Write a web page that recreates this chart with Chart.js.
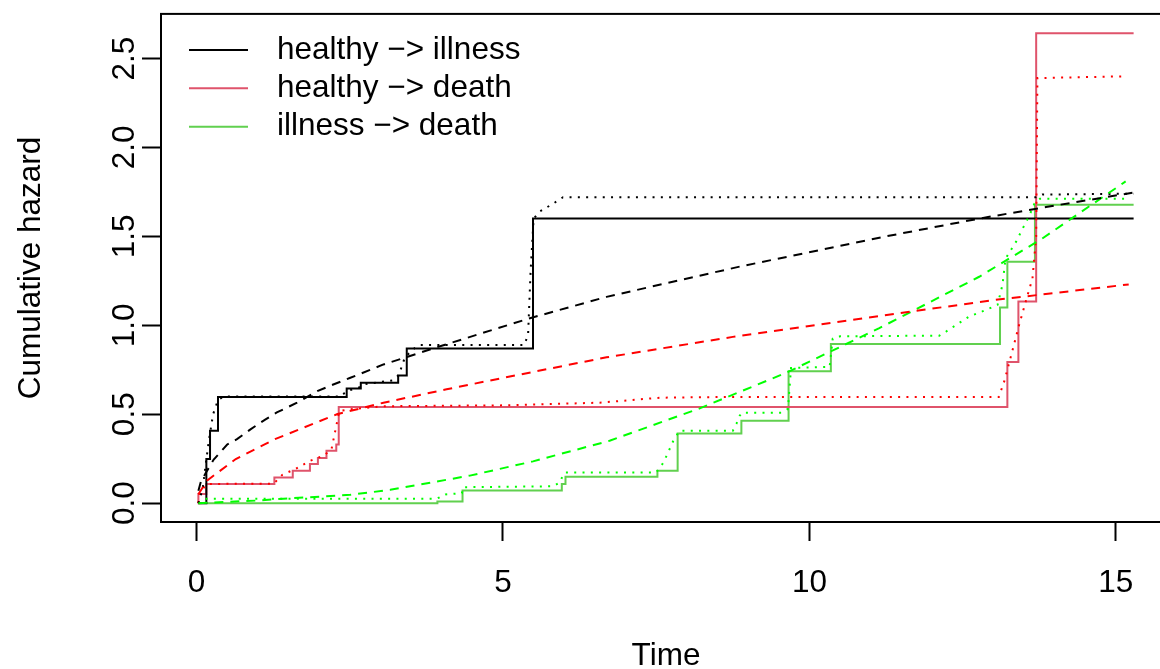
<!DOCTYPE html>
<html>
<head>
<meta charset="utf-8">
<script src="https://cdn.jsdelivr.net/npm/chart.js@4.4.1/dist/chart.umd.min.js"></script>
<style>
html,body{margin:0;padding:0;background:#fff;overflow:hidden;width:1160px;height:669px;}
canvas{display:block;}
</style>
</head>
<body>
<canvas id="c" width="1180" height="669"></canvas>
<script>
// ---- data ----
const seriesNames = ["healthy \u2212> illness", "healthy \u2212> death", "illness \u2212> death"];
const xTicks = [0, 5, 10, 15];
const xTickLabels = ["0", "5", "10", "15"];
const yTicks = [0, 0.5, 1, 1.5, 2, 2.5];
const yTickLabels = ["0.0", "0.5", "1.0", "1.5", "2.0", "2.5"];

// step estimates (solid)
const hiStepT = [0.03, 0.16, 0.22, 0.35, 2.45, 2.68, 3.29, 3.43, 5.49, 15.29];
const hiStepH = [0, 0.248, 0.407, 0.597, 0.645, 0.677, 0.718, 0.869, 1.6, 1.6];
const hdStepT = [0.02, 0.03, 0.16, 1.27, 1.57, 1.85, 1.98, 2.12, 2.28, 2.32, 13.23, 13.41, 13.70, 15.29];
const hdStepH = [0, 0.052, 0.108, 0.145, 0.183, 0.22, 0.254, 0.295, 0.33, 0.541, 0.794, 1.134, 2.642, 2.642];
const idStepT = [0.03, 3.93, 4.34, 5.96, 6.02, 7.52, 7.85, 8.89, 9.66, 10.35, 13.11, 13.23, 13.68, 15.29];
const idStepH = [0, 0.01, 0.071, 0.108, 0.149, 0.183, 0.392, 0.463, 0.742, 0.895, 1.10, 1.357, 1.678, 1.678];

// smoothed estimates (dotted)
const hiDotT = [0.03, 0.1, 0.15, 0.2, 0.27, 0.35, 0.45, 2.35, 2.45, 2.65, 2.75, 3.2, 3.3, 3.4, 3.55, 3.65, 5.35, 5.41, 5.45, 5.5, 5.6, 5.8, 5.98, 13.7, 13.8, 15.29];
const hiDotH = [0, 0.08, 0.22, 0.35, 0.5, 0.58, 0.6, 0.6, 0.63, 0.65, 0.67, 0.69, 0.72, 0.82, 0.87, 0.89, 0.89, 0.95, 1.3, 1.6, 1.64, 1.68, 1.72, 1.72, 1.735, 1.74];
const hdDotT = [0.03, 0.05, 0.17, 1.26, 1.40, 1.6, 1.86, 2.07, 2.2, 2.33, 2.51, 3.05, 5.0, 6.58, 7.56, 8.64, 13.09, 13.18, 13.31, 13.42, 13.53, 13.64, 13.70, 13.72, 15.16];
const hdDotH = [0, 0.06, 0.108, 0.11, 0.16, 0.19, 0.239, 0.267, 0.30, 0.518, 0.528, 0.545, 0.55, 0.565, 0.593, 0.597, 0.597, 0.686, 0.854, 1.0, 1.134, 1.264, 1.5, 2.39, 2.40];
const idDotT = [0.03, 0.16, 3.92, 4.06, 4.33, 4.35, 5.82, 5.93, 5.98, 6.02, 7.5, 7.61, 7.67, 7.78, 7.88, 8.75, 8.81, 8.86, 8.9, 9.54, 9.65, 9.70, 10.33, 10.38, 10.5, 12.12, 12.23, 12.44, 12.61, 12.82, 13.07, 13.15, 13.2, 13.37, 13.48, 13.59, 13.67, 13.76, 15.22];
const idDotH = [0, 0.025, 0.025, 0.049, 0.056, 0.09, 0.095, 0.117, 0.159, 0.173, 0.173, 0.224, 0.267, 0.351, 0.407, 0.407, 0.447, 0.49, 0.509, 0.509, 0.53, 0.76, 0.766, 0.925, 0.938, 0.942, 0.965, 1.012, 1.05, 1.078, 1.115, 1.227, 1.375, 1.469, 1.544, 1.618, 1.683, 1.711, 1.711];

// parametric fits (dashed)
const hiDashT = [0.03, 0.07, 0.15, 0.28, 0.5, 0.66, 0.88, 1.12, 1.31, 1.64, 1.97, 2.18, 2.51, 3.05, 4.0, 5.44, 6.69, 8.86, 11.25, 12.77, 13.86, 15.27];
const hiDashH = [0.07, 0.12, 0.17, 0.245, 0.33, 0.36, 0.415, 0.47, 0.51, 0.565, 0.63, 0.66, 0.705, 0.78, 0.885, 1.04, 1.16, 1.33, 1.5, 1.6, 1.665, 1.745];
const hdDashT = [0.03, 0.17, 0.64, 1.28, 2.29, 3.05, 4.08, 4.79, 6.69, 8.75, 11.19, 13.04, 15.21];
const hdDashH = [0.05, 0.127, 0.248, 0.36, 0.5, 0.565, 0.64, 0.69, 0.82, 0.935, 1.055, 1.143, 1.23];
const idDashT = [0.03, 1.0, 1.42, 2.51, 3.16, 4.46, 5.49, 6.74, 8.21, 9.62, 11.14, 12.77, 13.8, 15.16];
const idDashH = [0.0, 0.015, 0.025, 0.047, 0.075, 0.155, 0.235, 0.351, 0.533, 0.733, 0.984, 1.273, 1.488, 1.809];

// ---- styles ----
const FONT = "'Liberation Sans', Arial, Helvetica, sans-serif";
const FS = 31.5;
const solidCols = ["#000000", "#DF536B", "#61D04F"];
const fitCols = ["#000000", "#FF0000", "#00FF00"];

const pts = (t, h) => t.map((v, i) => ({x: v, y: h[i]}));
function ds(t, h, color, kind) {
  return {
    data: pts(t, h),
    borderColor: color,
    borderWidth: 2,
    pointRadius: 0,
    fill: false,
    tension: 0,
    stepped: kind === 'step' ? 'before' : false,
    borderDash: kind === 'dash' ? [9, 7] : (kind === 'dot' ? [2, 6.3] : []),
    borderCapStyle: 'butt',
    label: ''
  };
}

const datasets = [
  ds(hiDashT, hiDashH, fitCols[0], 'dash'),
  ds(hdDashT, hdDashH, fitCols[1], 'dash'),
  ds(idDashT, idDashH, fitCols[2], 'dash'),
  ds(hiDotT, hiDotH, fitCols[0], 'dot'),
  ds(hdDotT, hdDotH, fitCols[1], 'dot'),
  ds(idDotT, idDotH, fitCols[2], 'dot'),
  ds(hiStepT, hiStepH, solidCols[0], 'step'),
  ds(hdStepT, hdStepH, solidCols[1], 'step'),
  ds(idStepT, idStepH, solidCols[2], 'step')
];

const boxLegend = {
  id: 'boxLegend',
  afterDraw(chart) {
    const {ctx, chartArea: a} = chart;
    ctx.save();
    ctx.strokeStyle = '#000';
    ctx.lineWidth = 2;
    ctx.strokeRect(a.left, a.top, a.right - a.left, a.bottom - a.top);
    // legend
    const ys = [50, 88.3, 126.7];
    ctx.font = FS + 'px ' + FONT;
    ctx.textBaseline = 'middle';
    ctx.textAlign = 'left';
    seriesNames.forEach((n, i) => {
      ctx.strokeStyle = solidCols[i];
      ctx.lineWidth = 2;
      ctx.beginPath();
      ctx.moveTo(189, ys[i]);
      ctx.lineTo(248, ys[i]);
      ctx.stroke();
      ctx.fillStyle = '#000';
      ctx.fillText(n, 277, ys[i]);
    });
    ctx.restore();
  }
};

new Chart(document.getElementById('c'), {
  type: 'line',
  data: {datasets},
  plugins: [boxLegend],
  options: {
    responsive: false,
    animation: false,
    devicePixelRatio: 1,
    layout: {padding: {top: 12, right: 9, left: 0, bottom: 0}},
    plugins: {legend: {display: false}, tooltip: {enabled: false}, title: {display: false}},
    scales: {
      x: {
        type: 'linear',
        min: -0.58,
        max: 15.9,
        afterBuildTicks: s => { s.ticks = xTicks.map(v => ({value: v})); },
        afterFit: s => { s.height = 147; },
        border: {display: false},
        grid: {drawOnChartArea: false, drawTicks: true, tickLength: 19, tickColor: '#000', tickWidth: 2, color: '#000'},
        ticks: {
          color: '#000', padding: 23, maxRotation: 0, minRotation: 0,
          font: {family: FONT, size: FS},
          callback: (v, i) => xTickLabels[i]
        },
        title: {display: true, text: 'Time', color: '#000', font: {family: FONT, size: FS, lineHeight: 0.8}, padding: {top: 0, bottom: 0}}
      },
      y: {
        type: 'linear',
        min: -0.1058,
        max: 2.7508,
        afterBuildTicks: s => { s.ticks = yTicks.map(v => ({value: v})); },
        afterFit: s => { s.width = 161; },
        border: {display: false},
        grid: {drawOnChartArea: false, drawTicks: true, tickLength: 19, tickColor: '#000', tickWidth: 2, color: '#000'},
        ticks: {
          color: '#000', padding: -5, minRotation: 90, maxRotation: 90, crossAlign: 'center',
          font: {family: FONT, size: FS},
          callback: (v, i) => yTickLabels[i]
        },
        title: {display: true, text: 'Cumulative hazard', color: '#000', font: {family: FONT, size: FS, lineHeight: 1.2}, padding: {top: 12, bottom: 0}}
      }
    }
  }
});
</script>
</body>
</html>
